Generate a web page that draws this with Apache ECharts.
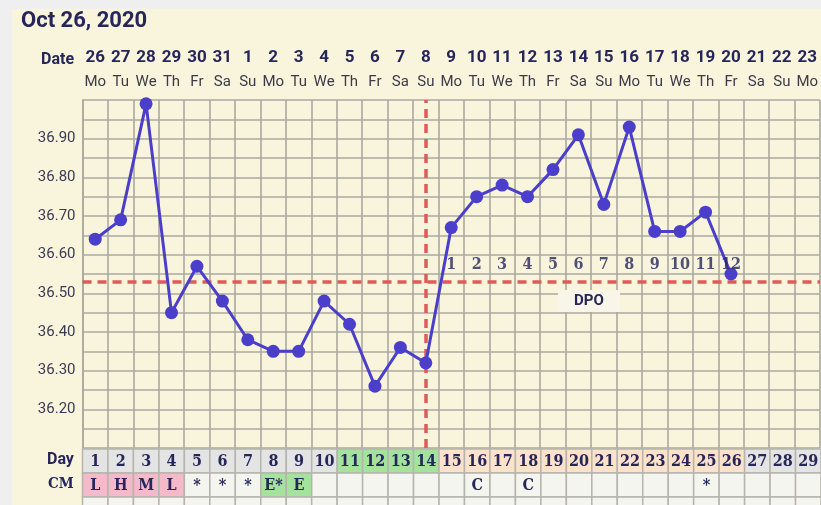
<!DOCTYPE html>
<html><head><meta charset="utf-8">
<script src="https://cdn.jsdelivr.net/npm/echarts@6/dist/echarts.min.js"></script>
<style>html,body{margin:0;padding:0;background:#efefef}#c{width:821px;height:505px}</style>
</head><body><div id="c"></div>
<script>
// ---- data ----
const title = 'Oct 26, 2020';
const dates = ['26','27','28','29','30','31','1','2','3','4','5','6','7','8','9','10','11','12','13','14','15','16','17','18','19','20','21','22','23'];
const weekdays = ['Mo','Tu','We','Th','Fr','Sa','Su','Mo','Tu','We','Th','Fr','Sa','Su','Mo','Tu','We','Th','Fr','Sa','Su','Mo','Tu','We','Th','Fr','Sa','Su','Mo'];
const cycleDays = ['1','2','3','4','5','6','7','8','9','10','11','12','13','14','15','16','17','18','19','20','21','22','23','24','25','26','27','28','29'];
const temps = [36.64,36.69,36.99,36.45,36.57,36.48,36.38,36.35,36.35,36.48,36.42,36.26,36.36,36.32,36.67,36.75,36.78,36.75,36.82,36.91,36.73,36.93,36.66,36.66,36.71,36.55];
const coverline = 36.535;
const ovulationDay = 14;
const dpoLabels = ['1','2','3','4','5','6','7','8','9','10','11','12'];
const dayPhase = ['n','n','n','n','n','n','n','n','n','n','f','f','f','f','l','l','l','l','l','l','l','l','l','l','l','l','n','n','n'];
const cm = ['L','H','M','L','*','*','*','E*','E','','','','','','','C','','C','','','','','','','*','','','',''];
const yTicks = [36.2,36.3,36.4,36.5,36.6,36.7,36.8,36.9];

// ---- styles ----
const navy = '#26265a';
const gridColor = '#aaa9a0';
const phaseColor = {n:'#e4e4e4', f:'#a3e39c', l:'#fde2cb'};
function cmColor(v){ if(['L','H','M','S'].includes(v)) return '#f6b9ca'; if(v.startsWith('E')) return '#a3e39c'; return '#f5f5ef'; }

const chart = echarts.init(document.getElementById('c'), null, {renderer:'canvas'});
const L = 82.5, CW = 25.6, W = CW*dates.length;

const tableData = [];
cycleDays.forEach((d,i)=>tableData.push([i,0,d,phaseColor[dayPhase[i]],'day']));
cm.forEach((v,i)=>tableData.push([i,1,v,cmColor(v),'cm']));
cm.forEach((v,i)=>tableData.push([i,2,'','#f5f5ef','x']));

const dpoData = dpoLabels.map((t,i)=>({value:[ovulationDay+i, coverline], label:{formatter:t}}));

chart.setOption({
  animation:false,
  backgroundColor:'#efefef',
  graphic:[
    {type:'rect', z:-10, shape:{x:12,y:9,width:821,height:505}, style:{fill:'#f9f5dc'}},
    {type:'text', left:21, top:10, style:{text:title, font:'bold 22px Roboto', fill:navy}},
    {type:'text', left:41, top:52, style:{text:'Date', font:'bold 16px Roboto', fill:navy}},
    {type:'text', left:47, top:452, style:{text:'Day', font:'bold 16px Roboto', fill:navy}},
    {type:'text', left:48, top:477, style:{text:'CM', font:'bold 15px "DejaVu Serif Condensed"', fill:navy}},
    {type:'rect', z:50, shape:{x:558,y:290,width:62,height:22}, style:{fill:'#f8f6e8'}},
    {type:'text', z:51, style:{x:589, y:301, text:'DPO', align:'center', verticalAlign:'middle', font:'bold 15px Roboto', fill:navy}}
  ],
  grid:[
    {left:L, top:100, width:W, height:348},
    {left:L, top:449, width:W, height:48}
  ],
  xAxis:[
    {type:'category', gridIndex:0, data:dates, position:'top', boundaryGap:true,
     axisLine:{show:false}, axisTick:{show:false},
     axisLabel:{interval:0, margin:5, formatter:(v,i)=>'{d|'+v+'}\n{w|'+weekdays[i]+'}',
       rich:{d:{fontFamily:'Roboto', fontWeight:'bold', fontSize:17, color:navy, lineHeight:25},
             w:{fontFamily:'Roboto', fontSize:15, color:'#3a3a4a', lineHeight:25}}},
     splitLine:{show:true, interval:0, lineStyle:{color:gridColor, width:1.6}}},
    {type:'category', gridIndex:1, data:cycleDays, show:false}
  ],
  yAxis:[
    {type:'value', gridIndex:0, min:36.10, max:37.00, interval:0.05,
     axisLine:{show:true, lineStyle:{color:gridColor, width:1.6}}, axisTick:{show:false},
     axisLabel:{margin:7, fontSize:15, fontFamily:'Roboto', color:'#3a3a55',
       formatter:v=>{const r=Math.round(v*100)/100; return yTicks.some(t=>Math.abs(t-r)<1e-6)? r.toFixed(2):'';}},
     splitLine:{show:true, lineStyle:{color:gridColor, width:1.6}}},
    {type:'value', gridIndex:1, min:0, max:2, inverse:true, show:false}
  ],
  series:[
    {type:'custom', xAxisIndex:1, yAxisIndex:1, data:tableData, clip:false,
     renderItem:(params, api)=>{
       const d = tableData[params.dataIndex];
       const p0 = api.coord([d[0], 0]);
       const w = api.size([1,0])[0];
       const h = Math.abs(api.coord([d[0], 1])[1] - p0[1]);
       const top = p0[1] + d[1]*h;
       const font = 'bold 16px "DejaVu Serif Condensed"';
       return {type:'group', children:[
         {type:'rect', shape:{x:p0[0]-w/2, y:top, width:w, height:h}, style:{fill:d[3], stroke:'#b5b5ae', lineWidth:1.5}},
         {type:'text', style:{x:p0[0], y:top+h/2+1, text:d[2], align:'center', verticalAlign:'middle', font:font, fill:navy}}
       ]};
     }},
    {type:'line', data:temps, symbol:'circle', symbolSize:13, z:5,
     lineStyle:{color:'#4a3ecb', width:3}, itemStyle:{color:'#4a3ecb'},
     markLine:{symbol:'none', silent:true, label:{show:false},
       lineStyle:{color:'#e05a5a', width:3.5, type:[9,6]},
       data:[{yAxis:coverline}, {xAxis:ovulationDay-1}]}},
    {type:'scatter', data:dpoData, symbolSize:0, z:8,
     label:{show:true, position:'inside', offset:[0,-15], fontFamily:'DejaVu Serif Condensed', fontWeight:'bold', fontSize:16, color:navy}}
  ]
});
</script></body></html>
